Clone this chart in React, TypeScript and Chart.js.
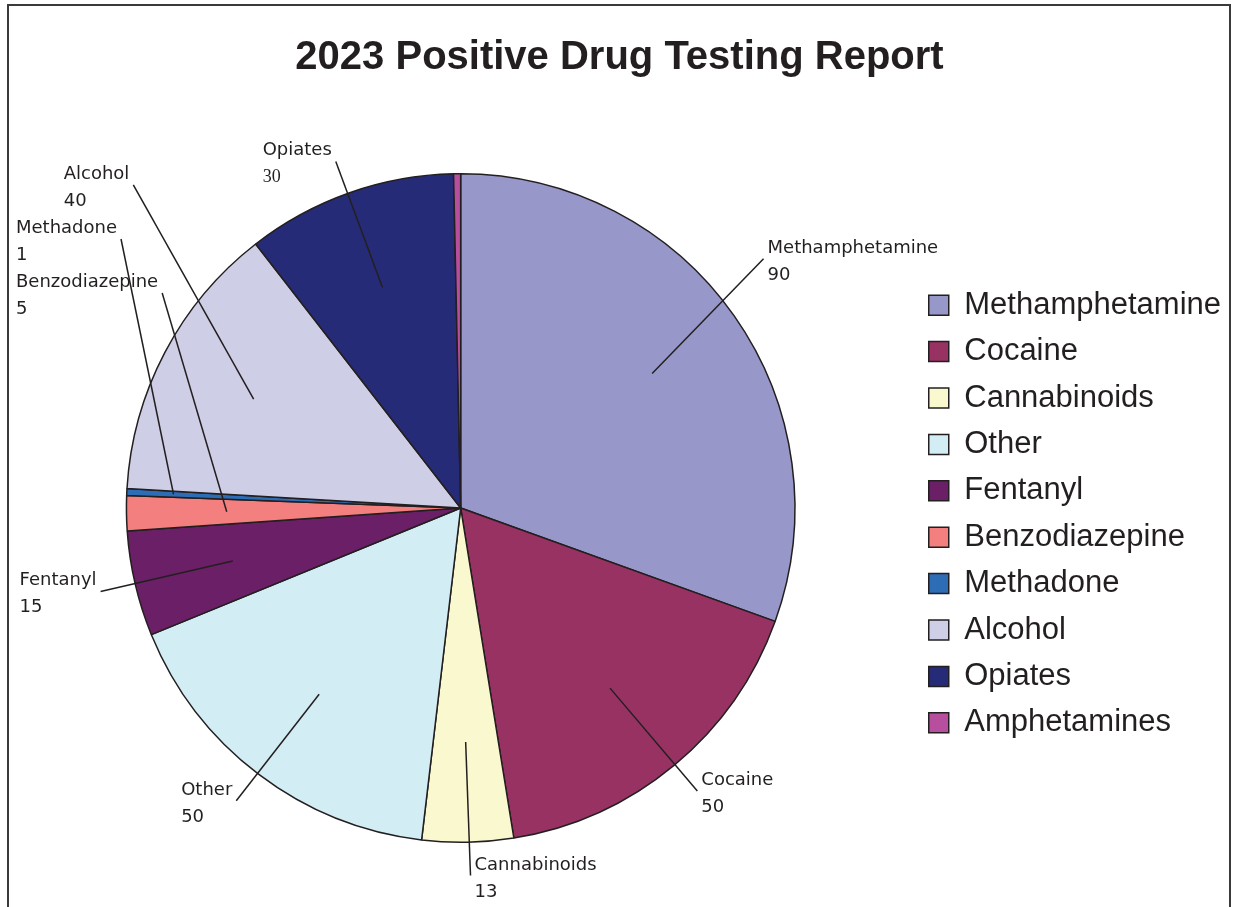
import { useEffect, useRef } from 'react';
import { Chart, registerables } from 'chart.js';

Chart.register(...registerables);

// Positive test counts by substance, in legend / slice order (clockwise from 12 o'clock)
const categories = [
  'Methamphetamine',
  'Cocaine',
  'Cannabinoids',
  'Other',
  'Fentanyl',
  'Benzodiazepine',
  'Methadone',
  'Alcohol',
  'Opiates',
  'Amphetamines',
];
const positives = [90, 50, 13, 50, 15, 5, 1, 40, 30, 1];
const sliceColors = [
  '#9797c9',
  '#983263',
  '#faf8cf',
  '#d3edf4',
  '#6a1f66',
  '#f37f7f',
  '#2d6db6',
  '#cecee6',
  '#262b78',
  '#b84f9e',
];
// Slices that carry no callout label
const unlabelledCategories = ['Amphetamines'];
const chartTitle = '2023 Positive Drug Testing Report';

const INK = '#231f20';
const LABEL_FONT = '18px "DejaVu Sans"';
const valueFonts: Record<string, string> = { Opiates: '18px "Liberation Serif"' };
const LABEL_GAP = 54;

// Outer frame around the whole graphic
const framePlugin = {
  id: 'frame',
  afterDraw(chart: any) {
    const { ctx } = chart;
    ctx.save();
    ctx.strokeStyle = '#3a3a3a';
    ctx.lineWidth = 2;
    ctx.strokeRect(8, 5, 1222, 930);
    ctx.restore();
  },
};

// Two-line "name / value" callouts with leader lines into each slice
const leaderLabels = {
  id: 'leaderLabels',
  afterDatasetsDraw(chart: any) {
    const { ctx } = chart;
    const arcs = chart.getDatasetMeta(0).data;
    if (!arcs.length) return;
    const { x: cx, y: cy, outerRadius: r } = arcs[0].getProps(['x', 'y', 'outerRadius'], true);
    const values = chart.data.datasets[0].data as number[];
    const names = chart.data.labels as string[];

    const hb: any[] = (chart.legend && chart.legend.legendHitBoxes) || [];
    const legLeft = hb.length ? Math.min(...hb.map((b) => b.left)) : Infinity;
    const legTop = hb.length ? Math.min(...hb.map((b) => b.top)) : 0;
    const legBottom = hb.length ? Math.max(...hb.map((b) => b.top + b.height)) : 0;

    const items: any[] = [];
    names.forEach((name, i) => {
      if (unlabelledCategories.includes(name)) return;
      const { startAngle, endAngle } = arcs[i].getProps(['startAngle', 'endAngle'], true);
      const mid = (startAngle + endAngle) / 2;
      const span = endAngle - startAngle;
      const dx = Math.cos(mid);
      const dy = Math.sin(mid);
      const valueText = String(values[i]);
      const valueFont = valueFonts[name] || LABEL_FONT;
      ctx.font = LABEL_FONT;
      const wName = ctx.measureText(name).width;
      ctx.font = valueFont;
      const wVal = ctx.measureText(valueText).width;
      const w = Math.max(wName, wVal);
      const left = dx < 0;
      const ax = cx + r * 1.1 * dx;
      const ay = cy + r * 1.1 * dy;
      let bx = left ? ax - 6 - w : ax + 6;
      let yc = ay;
      let minY = -Infinity;
      let maxY = Infinity;

      // keep left-hand callouts on the canvas and clear of the pie
      if (left && bx < 16) {
        bx = 16;
        const gapX = cx - (bx + w + 10);
        const R = r + 14;
        if (gapX < R) {
          const need = Math.sqrt(R * R - gapX * gapX) + 26;
          if (dy < 0.1) maxY = cy - need;
          else minY = cy + need;
        }
      }
      // keep right-hand callouts clear of the legend
      if (!left && bx + w > legLeft - 8 && yc + 25 > legTop - 6 && yc - 19 < legBottom + 6) {
        if (yc < (legTop + legBottom) / 2) maxY = legTop - 6 - 25;
        else minY = legBottom + 6 + 19;
      }
      yc = Math.min(Math.max(yc, minY), maxY);
      // thin slices start their leader nearer the rim, where they are wider
      const inner = span < 0.05 ? 0.86 : 0.7;
      items.push({
        name,
        valueText,
        valueFont,
        w,
        left,
        mid,
        bx,
        yc,
        minY,
        maxY,
        px: cx + r * inner * dx,
        py: cy + r * inner * dy,
      });
    });

    // stack callouts on each side in slice order, without overlaps
    const overlapX = (a: any, b: any) => a.bx < b.bx + b.w + 8 && b.bx < a.bx + a.w + 8;
    [true, false].forEach((side) => {
      const list = items
        .filter((it) => it.left === side)
        .sort((a, b) => (side ? b.mid - a.mid : a.mid - b.mid));
      for (let i = 1; i < list.length; i++) {
        for (let j = 0; j < i; j++) {
          if (overlapX(list[i], list[j])) list[i].yc = Math.max(list[i].yc, list[j].yc + LABEL_GAP);
        }
        list[i].yc = Math.min(list[i].yc, list[i].maxY);
      }
      for (let i = list.length - 2; i >= 0; i--) {
        for (let j = i + 1; j < list.length; j++) {
          if (overlapX(list[i], list[j])) list[i].yc = Math.min(list[i].yc, list[j].yc - LABEL_GAP);
        }
      }
    });

    ctx.save();
    ctx.strokeStyle = INK;
    ctx.lineWidth = 1.5;
    ctx.fillStyle = INK;
    ctx.textAlign = 'left';
    ctx.textBaseline = 'alphabetic';
    items.forEach((it) => {
      const ex = it.left ? it.bx + it.w + 4 : it.bx - 4;
      ctx.beginPath();
      ctx.moveTo(it.px, it.py);
      ctx.lineTo(ex, it.yc);
      ctx.stroke();
      ctx.font = LABEL_FONT;
      ctx.fillText(it.name, it.bx, it.yc - 6);
      ctx.font = it.valueFont;
      ctx.fillText(it.valueText, it.bx, it.yc + 21);
    });
    ctx.restore();
  },
};

export default function App() {
  const canvasRef = useRef<HTMLCanvasElement>(null);

  useEffect(() => {
    if (!canvasRef.current) return;
    const chart = new Chart(canvasRef.current, {
      type: 'pie',
      data: {
        labels: categories,
        datasets: [
          {
            data: positives,
            backgroundColor: sliceColors,
            borderColor: INK,
            borderWidth: 1.5,
          },
        ],
      },
      options: {
        responsive: false,
        animation: false,
        layout: { padding: { left: 8, right: 4, top: 0, bottom: 64 } },
        plugins: {
          title: {
            display: true,
            text: chartTitle,
            color: INK,
            font: { family: '"Liberation Sans", Arial, sans-serif', size: 40, weight: 'bold' },
            padding: { top: 34, bottom: 91 },
          },
          legend: {
            position: 'right',
            fullSize: false,
            title: { display: true, text: '', font: { size: 10 }, padding: 0 },
            labels: {
              color: INK,
              font: { family: '"Liberation Sans", Arial, sans-serif', size: 31 },
              boxWidth: 20,
              boxHeight: 20,
              padding: 15.4,
            },
          },
          tooltip: { enabled: false },
        },
      },
      plugins: [leaderLabels, framePlugin],
    });
    return () => chart.destroy();
  }, []);

  return (
    <div style={{ position: 'fixed', left: 0, top: 0, width: 1235, height: 907, background: '#fff' }}>
      <canvas ref={canvasRef} width={1235} height={907} style={{ display: 'block' }} />
    </div>
  );
}
